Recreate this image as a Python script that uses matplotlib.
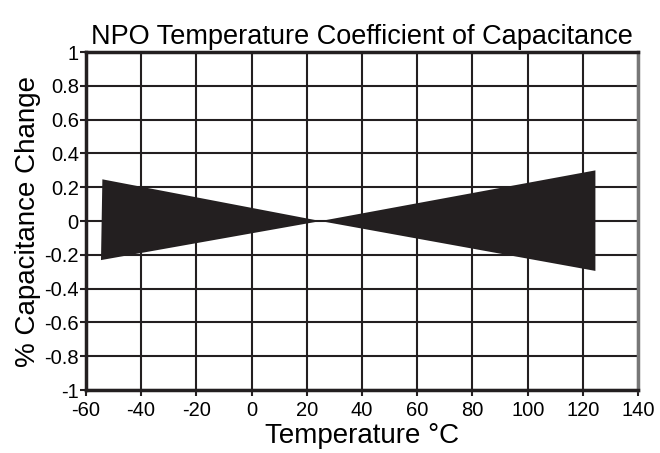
import numpy as np
import matplotlib.pyplot as plt

plt.rcParams['font.family'] = ['Liberation Sans', 'DejaVu Sans']
plt.rcParams['axes.unicode_minus'] = False

# band outline
temp_left = [-54.0, 25.0, -54.5]
cap_left = [0.247, 0.0, -0.231]
temp_right = [25.0, 124.5, 124.5]
cap_right = [0.0, 0.30, -0.295]

x_ticks = np.arange(-60, 141, 20)
x_labels = ['-60', '-40', '-20', '0', '20', '40', '60', '80', '100', '120', '140']
y_ticks = np.arange(-1.0, 1.01, 0.2)
y_labels = ['-1', '-0.8', '-0.6', '-0.4', '-0.2', '0', '0.2', '0.4', '0.6', '0.8', '1']

fig = plt.figure(figsize=(6.6, 4.53), dpi=100)
ax = fig.add_axes([0.130, 0.139, 0.837, 0.746])

ax.fill(temp_left, cap_left, color='#231f20', lw=0)
ax.fill(temp_right, cap_right, color='#231f20', lw=0)

ax.set_xlim(-60, 140)
ax.set_ylim(-1, 1)
ax.set_xticks(x_ticks)
ax.set_xticklabels(x_labels)
ax.set_yticks(y_ticks)
ax.set_yticklabels(y_labels)
ax.grid(True, color='#231f20', lw=1.5)
ax.set_axisbelow(True)

for side in ['left', 'bottom', 'top']:
    ax.spines[side].set_linewidth(2.5)
    ax.spines[side].set_color('#231f20')
ax.spines['right'].set_linewidth(2.5)
ax.spines['right'].set_color('#777777')

ax.tick_params(axis='both', labelsize=14.5, length=4, width=1.5, color='#231f20')
ax.tick_params(axis='y', pad=1)
ax.tick_params(axis='x', pad=4)

ax.set_title('NPO Temperature Coefficient of Capacitance', fontsize=19.5, pad=6)
ax.set_xlabel('Temperature °C', fontsize=20, labelpad=2)
ax.set_ylabel('% Capacitance Change', fontsize=20, labelpad=2)

fig.savefig('out.png', dpi=100)
